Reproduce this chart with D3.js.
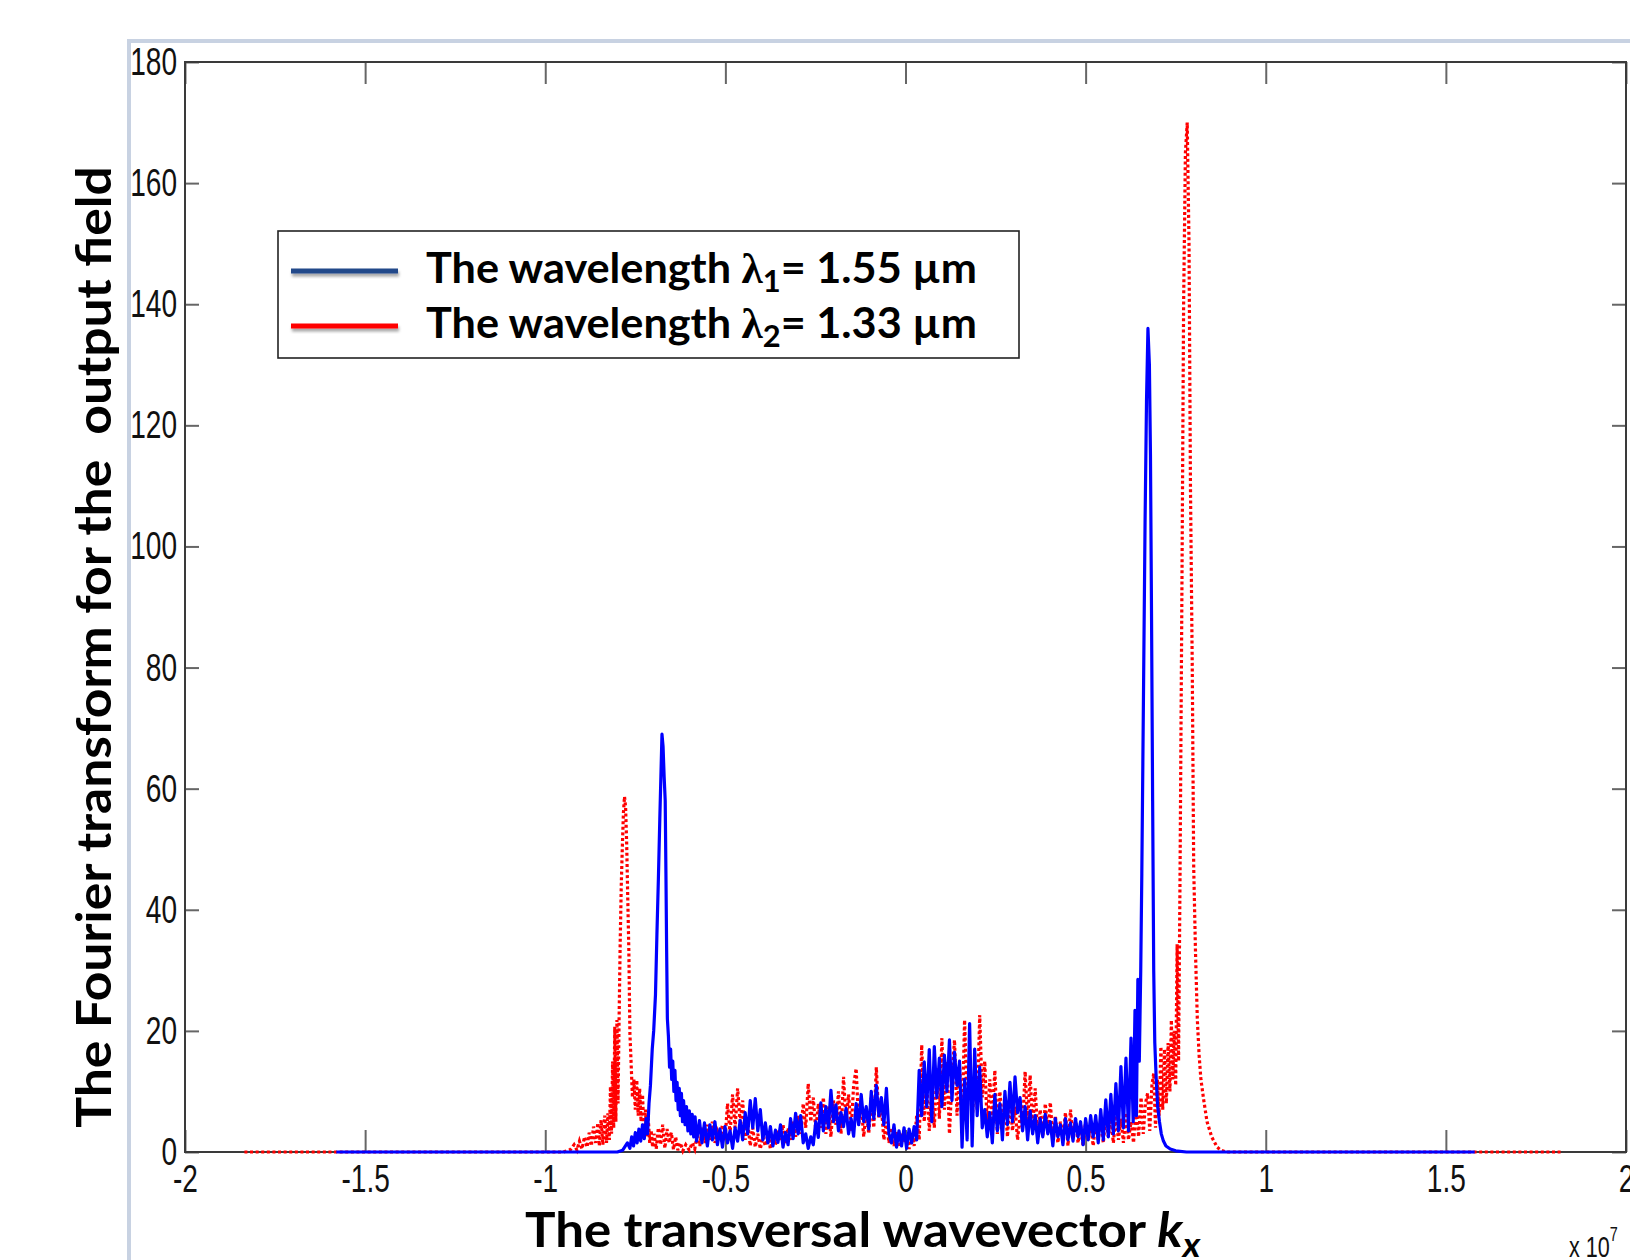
<!DOCTYPE html>
<html>
<head>
<meta charset="utf-8">
<script src="https://cdn.jsdelivr.net/npm/d3@7"></script>
<style>
  html, body { margin: 0; padding: 0; background: #fff; }
  svg { display: block; }
</style>
</head>
<body>
<svg id="chart" width="1630" height="1260"></svg>
<script>
// ---- data (kx in units of 1e7, amplitude) ----
const xTicks = [-2, -1.5, -1, -0.5, 0, 0.5, 1, 1.5, 2];
const yTicks = [0, 20, 40, 60, 80, 100, 120, 140, 160, 180];

const legendLabels = [
  { pre: 'The wavelength ', sym: 'λ', sub: '1', post: '= 1.55 µm' },
  { pre: 'The wavelength ', sym: 'λ', sub: '2', post: '= 1.33 µm' }
];

// lambda1 = 1.55 um (solid blue)
const blueSeries = [
  [-1.58, 0], [-0.80, 0], [-0.785, 0.3], [-0.772, 1.5], [-0.765, 0.6], [-0.760, 2.5], [-0.755, 1.0],
  [-0.750, 3.2], [-0.745, 1.5], [-0.740, 3.8], [-0.735, 1.8], [-0.730, 4.5], [-0.725, 2.2], [-0.720, 5.5],
  [-0.716, 3.0], [-0.712, 8.0], [-0.708, 11], [-0.703, 17], [-0.699, 20], [-0.694, 26], [-0.690, 36],
  [-0.686, 45], [-0.682, 55], [-0.679, 62], [-0.676, 69], [-0.673, 67], [-0.670, 62], [-0.667, 58],
  [-0.665, 46], [-0.663, 33], [-0.661, 22], [-0.658, 19], [-0.655, 14], [-0.652, 17], [-0.649, 12],
  [-0.646, 15], [-0.643, 10], [-0.640, 13.5], [-0.637, 8.5], [-0.634, 11.5], [-0.631, 7], [-0.628, 10.5],
  [-0.625, 6], [-0.622, 9.7], [-0.619, 5], [-0.616, 8.5], [-0.612, 4.5], [-0.608, 7.5], [-0.604, 3.5],
  [-0.600, 6.8], [-0.596, 3], [-0.592, 6.2], [-0.588, 2.5], [-0.584, 5.8],
  [-0.580, 1.8], [-0.572, 5.2], [-0.565, 1.5], [-0.558, 4.8], [-0.550, 1.0], [-0.543, 4.5], [-0.536, 2.0],
  [-0.529, 5.0], [-0.522, 1.2], [-0.515, 3.8], [-0.508, 0.8], [-0.501, 4.2], [-0.494, 1.5], [-0.487, 3.5],
  [-0.480, 0.6], [-0.473, 4.0], [-0.466, 1.8], [-0.459, 5.2], [-0.452, 2.0], [-0.445, 6.5], [-0.438, 3.0],
  [-0.431, 8.5], [-0.424, 4.0], [-0.417, 8.8], [-0.410, 3.5], [-0.403, 7.0], [-0.396, 2.0], [-0.389, 4.8],
  [-0.382, 1.5], [-0.375, 4.2], [-0.368, 1.0], [-0.361, 3.6], [-0.354, 1.6], [-0.347, 4.5], [-0.340, 0.8],
  [-0.333, 3.2], [-0.326, 1.2], [-0.319, 5.5], [-0.312, 2.2], [-0.305, 6.4], [-0.298, 3.0], [-0.291, 6.0],
  [-0.284, 1.5], [-0.277, 3.0], [-0.270, 0.6], [-0.263, 2.5], [-0.256, 1.2], [-0.249, 5.0], [-0.242, 2.4],
  [-0.235, 8.1], [-0.228, 3.5], [-0.221, 7.5], [-0.214, 4.0], [-0.207, 10.2], [-0.200, 5.0], [-0.193, 7.8],
  [-0.186, 3.5], [-0.179, 6.5], [-0.172, 4.2], [-0.165, 7.2], [-0.158, 3.0], [-0.151, 5.5], [-0.144, 2.6],
  [-0.137, 8.0], [-0.130, 4.5], [-0.123, 9.5], [-0.116, 5.0], [-0.109, 7.5], [-0.102, 3.8], [-0.095, 10.0],
  [-0.088, 5.5], [-0.081, 11.0], [-0.074, 6.0], [-0.067, 9.0], [-0.060, 4.5], [-0.053, 10.5], [-0.046, 3.0],
  [-0.039, 1.5], [-0.032, 4.5], [-0.025, 0.8], [-0.018, 3.5], [-0.011, 1.0], [-0.004, 4.0], [0.003, 0.6],
  [0.010, 3.8], [0.017, 1.5], [0.024, 4.2], [0.031, 2.0], [0.038, 13.5], [0.045, 6.0], [0.052, 14.9],
  [0.059, 7.5], [0.066, 16.9], [0.073, 5.0], [0.080, 17.4], [0.087, 9.0], [0.094, 15.5], [0.101, 7.5],
  [0.108, 16.0], [0.115, 10.0], [0.122, 18.5], [0.129, 8.5], [0.136, 16.5], [0.143, 11.0], [0.150, 15.0],
  [0.157, 0.8], [0.164, 12.0], [0.171, 2.0], [0.178, 21.2], [0.185, 1.0], [0.192, 17.0], [0.199, 6.0],
  [0.206, 14.0], [0.213, 4.0], [0.220, 7.0], [0.227, 2.5], [0.234, 6.5], [0.241, 1.5], [0.248, 9.5],
  [0.255, 3.5], [0.262, 8.0], [0.269, 2.0], [0.276, 10.0], [0.283, 4.5], [0.290, 11.5], [0.297, 5.0],
  [0.304, 12.4], [0.311, 6.5], [0.318, 9.0], [0.325, 3.5], [0.332, 7.5], [0.339, 2.0], [0.346, 6.8],
  [0.353, 3.0], [0.360, 6.0], [0.367, 1.5], [0.374, 5.5], [0.381, 2.5], [0.388, 6.2], [0.395, 3.0],
  [0.402, 5.0], [0.409, 1.0], [0.416, 5.5], [0.423, 2.5], [0.430, 4.5], [0.437, 1.2], [0.444, 5.5],
  [0.451, 2.0], [0.458, 4.8], [0.465, 1.8], [0.472, 5.5], [0.479, 2.5], [0.486, 5.0], [0.493, 1.2],
  [0.500, 5.5], [0.507, 2.0], [0.514, 6.0], [0.521, 2.5], [0.528, 6.0], [0.535, 1.5], [0.542, 7.0],
  [0.549, 2.0], [0.556, 8.6], [0.563, 2.5], [0.570, 9.5], [0.577, 3.0], [0.584, 11.3], [0.591, 3.5],
  [0.598, 14.1], [0.605, 4.0], [0.612, 15.5], [0.619, 3.5], [0.626, 18.8], [0.632, 5.0], [0.637, 23.4],
  [0.641, 6.0], [0.645, 28.5], [0.649, 15], [0.653, 30], [0.656, 46], [0.661, 78], [0.665, 104],
  [0.669, 124], [0.673, 136], [0.677, 130], [0.680, 115], [0.683, 88], [0.686, 58], [0.689, 30],
  [0.692, 18], [0.696, 12], [0.700, 7.5], [0.705, 5.0], [0.710, 3.0], [0.716, 1.8], [0.723, 1.0],
  [0.735, 0.5], [0.750, 0.2], [0.780, 0], [1.58, 0]
];

// lambda2 = 1.33 um (dotted red)
const redSeries = [
  [-1.835, 0], [-0.95, 0], [-0.930, 0.4], [-0.920, 1.2], [-0.912, 0.3], [-0.905, 1.8], [-0.898, 0.5],
  [-0.891, 2.5], [-0.884, 0.8], [-0.878, 3.2], [-0.872, 1.0], [-0.866, 4.2], [-0.860, 1.5], [-0.854, 4.8],
  [-0.850, 1.0], [-0.845, 5.3], [-0.840, 1.2], [-0.835, 6.0], [-0.830, 1.5], [-0.826, 6.4], [-0.822, 2.0],
  [-0.819, 10.8], [-0.816, 3.0], [-0.813, 15], [-0.810, 4.0], [-0.807, 20.7], [-0.804, 5.0], [-0.801, 21.8],
  [-0.798, 8.0], [-0.795, 22], [-0.792, 34.5], [-0.789, 44], [-0.786, 50.4], [-0.783, 56], [-0.780, 58.7],
  [-0.777, 57], [-0.774, 51], [-0.771, 42], [-0.768, 33.4], [-0.765, 19.6], [-0.762, 15.2], [-0.758, 9],
  [-0.754, 12], [-0.750, 7], [-0.746, 11.9], [-0.742, 6], [-0.738, 10.5], [-0.734, 5], [-0.730, 9.5],
  [-0.726, 3.5], [-0.722, 7], [-0.718, 2.5], [-0.714, 5.5], [-0.710, 1.5], [-0.706, 3.6], [-0.702, 0.8],
  [-0.698, 3.0], [-0.692, 0.5], [-0.686, 4.0], [-0.680, 1.2], [-0.674, 4.5], [-0.668, 0.6], [-0.662, 3.8],
  [-0.656, 1.5], [-0.650, 3.2], [-0.644, 0.4], [-0.638, 2.5], [-0.632, 0.3], [-0.625, 1.5], [-0.618, 0.2],
  [-0.610, 1.2], [-0.600, 0.3], [-0.592, 1.5], [-0.585, 0.5], [-0.578, 3.0], [-0.571, 1.0], [-0.564, 4.0],
  [-0.557, 1.5], [-0.550, 4.5], [-0.543, 2.0], [-0.536, 5.0], [-0.529, 1.5], [-0.522, 3.5], [-0.515, 2.5],
  [-0.508, 4.5], [-0.501, 2.0], [-0.494, 8.0], [-0.487, 3.0], [-0.480, 9.5], [-0.473, 4.0], [-0.466, 10.5],
  [-0.459, 5.0], [-0.452, 8.5], [-0.445, 2.0], [-0.438, 5.0], [-0.431, 1.0], [-0.424, 4.0], [-0.417, 0.8],
  [-0.410, 3.0], [-0.403, 0.5], [-0.396, 2.5], [-0.389, 1.0], [-0.382, 3.0], [-0.375, 0.5], [-0.368, 2.8],
  [-0.361, 1.2], [-0.354, 3.5], [-0.347, 2.0], [-0.340, 4.5], [-0.333, 1.5], [-0.326, 4.0], [-0.319, 2.0],
  [-0.312, 5.0], [-0.305, 2.5], [-0.298, 6.0], [-0.291, 3.0], [-0.284, 8.0], [-0.277, 4.0], [-0.270, 11.3],
  [-0.263, 5.0], [-0.256, 9.0], [-0.249, 3.5], [-0.242, 8.0], [-0.235, 4.0], [-0.228, 9.0], [-0.221, 3.0],
  [-0.214, 7.5], [-0.207, 2.5], [-0.200, 8.5], [-0.193, 4.5], [-0.186, 10.0], [-0.179, 3.0], [-0.172, 12.4],
  [-0.165, 5.0], [-0.158, 9.5], [-0.151, 3.5], [-0.144, 11.0], [-0.137, 13.8], [-0.130, 4.5], [-0.123, 8.0],
  [-0.116, 2.5], [-0.109, 7.0], [-0.102, 3.0], [-0.095, 9.0], [-0.088, 4.0], [-0.081, 14.0], [-0.074, 5.5],
  [-0.067, 7.5], [-0.060, 2.0], [-0.053, 5.0], [-0.046, 1.5], [-0.039, 4.0], [-0.032, 1.0], [-0.025, 3.5],
  [-0.018, 0.8], [-0.011, 3.0], [-0.004, 1.5], [0.003, 2.5], [0.010, 0.5], [0.017, 3.0], [0.024, 1.0],
  [0.031, 6.0], [0.038, 2.0], [0.045, 17.7], [0.052, 5.0], [0.059, 12.0], [0.066, 3.5], [0.073, 10.0],
  [0.080, 4.0], [0.087, 14.0], [0.094, 5.5], [0.101, 18.8], [0.108, 7.0], [0.115, 15.0], [0.122, 3.0],
  [0.129, 12.0], [0.136, 18.5], [0.143, 6.0], [0.150, 14.0], [0.157, 4.0], [0.164, 21.8], [0.171, 8.0],
  [0.178, 16.0], [0.185, 5.0], [0.192, 13.0], [0.199, 7.0], [0.206, 22.6], [0.213, 9.0], [0.220, 15.0],
  [0.227, 4.0], [0.234, 12.0], [0.241, 5.5], [0.248, 13.5], [0.255, 3.0], [0.262, 10.0], [0.269, 4.5],
  [0.276, 8.5], [0.283, 2.5], [0.290, 9.0], [0.297, 3.5], [0.304, 7.5], [0.311, 2.0], [0.318, 6.0],
  [0.325, 4.0], [0.332, 13.3], [0.339, 5.0], [0.346, 12.7], [0.353, 4.0], [0.360, 10.5], [0.367, 3.0],
  [0.374, 7.0], [0.381, 2.5], [0.388, 8.0], [0.395, 3.5], [0.402, 8.2], [0.409, 2.0], [0.416, 6.0],
  [0.423, 1.5], [0.430, 5.0], [0.437, 2.0], [0.444, 6.5], [0.451, 1.0], [0.458, 7.0], [0.465, 2.5],
  [0.472, 5.5], [0.479, 1.5], [0.486, 4.5], [0.493, 1.0], [0.500, 5.0], [0.507, 2.0], [0.514, 4.5],
  [0.521, 1.0], [0.528, 5.0], [0.535, 2.0], [0.542, 5.5], [0.549, 1.5], [0.556, 6.0], [0.563, 2.5],
  [0.570, 5.5], [0.577, 1.5], [0.584, 6.0], [0.591, 2.0], [0.598, 5.5], [0.605, 1.5], [0.612, 6.5],
  [0.619, 2.0], [0.626, 5.0], [0.633, 1.5], [0.640, 7.5], [0.647, 2.5], [0.654, 9.0], [0.660, 3.0],
  [0.666, 8.0], [0.672, 9.7], [0.678, 3.5], [0.684, 11.0], [0.689, 13.0], [0.694, 4.0], [0.699, 12.0],
  [0.704, 6.0], [0.709, 17.4], [0.714, 7.0], [0.719, 17.0], [0.724, 8.0], [0.729, 18.0], [0.734, 10.0],
  [0.738, 21.8], [0.742, 12.0], [0.746, 20.0], [0.750, 11.0], [0.754, 34.3], [0.758, 15.0], [0.762, 45],
  [0.767, 90], [0.772, 140], [0.777, 165], [0.782, 170], [0.787, 150], [0.791, 110], [0.796, 80],
  [0.800, 47], [0.805, 33], [0.810, 22], [0.815, 16], [0.820, 12], [0.828, 8.5], [0.837, 5.0],
  [0.850, 2.5], [0.865, 0.8], [0.875, 0.3], [0.890, 0], [1.825, 0]
];

// ---- layout ----
const plot = { left: 185, right: 1626, top: 62, bottom: 1152 };
const tickFont = '"Liberation Sans", Arial, sans-serif';
const tickSqueeze = 0.72;   // narrow, tall tick digits as in the figure
const labelFont = 'Lato, "Open Sans", "Noto Sans", sans-serif';

const svg = d3.select('#chart');

const defs = svg.append('defs');
defs.append('filter').attr('id', 'shadow')
  .attr('x', '-10%').attr('y', '-100%').attr('width', '120%').attr('height', '300%')
  .append('feDropShadow')
  .attr('dx', 1).attr('dy', 3).attr('stdDeviation', 1.5)
  .attr('flood-color', '#000').attr('flood-opacity', 0.35);

// light frame around the embedded figure
svg.append('rect')
  .attr('x', 129).attr('y', 41)
  .attr('width', 1620).attr('height', 1300)
  .attr('fill', '#fff')
  .attr('stroke', '#c8d2e2')
  .attr('stroke-width', 4);

const x = d3.scaleLinear().domain([-2, 2]).range([plot.left, plot.right]);
const y = d3.scaleLinear().domain([0, 180]).range([plot.bottom, plot.top]);

const styleAxis = g => {
  g.select('.domain').remove();
  g.selectAll('.tick line').attr('stroke', '#666').attr('stroke-width', 2);
  g.selectAll('.tick text')
    .attr('fill', '#111')
    .style('font-family', tickFont)
    .style('font-size', '39px')
    .attr('transform', `scale(${tickSqueeze},1)`);
};

// Step 1: axes (ticks pointing inward on all four sides)
svg.append('g')
  .attr('transform', `translate(0,${plot.bottom})`)
  .call(d3.axisBottom(x).tickValues(xTicks).tickFormat(d => String(d))
    .tickSizeInner(-22).tickSizeOuter(0).tickPadding(12))
  .call(styleAxis);

svg.append('g')
  .attr('transform', `translate(0,${plot.top})`)
  .call(d3.axisTop(x).tickValues(xTicks).tickFormat('')
    .tickSizeInner(-22).tickSizeOuter(0))
  .call(styleAxis);

svg.append('g')
  .attr('transform', `translate(${plot.left},0)`)
  .call(d3.axisLeft(y).tickValues(yTicks).tickFormat(d => String(d))
    .tickSizeInner(-14).tickSizeOuter(0).tickPadding(8))
  .call(styleAxis)
  .call(g => g.selectAll('.tick text').attr('x', -8 / tickSqueeze));

svg.append('g')
  .attr('transform', `translate(${plot.right},0)`)
  .call(d3.axisRight(y).tickValues(yTicks).tickFormat('')
    .tickSizeInner(-14).tickSizeOuter(0))
  .call(styleAxis);

svg.append('rect')
  .attr('x', plot.left).attr('y', plot.top)
  .attr('width', plot.right - plot.left)
  .attr('height', plot.bottom - plot.top)
  .attr('fill', 'none')
  .attr('stroke', '#3a3a3a')
  .attr('stroke-width', 2);

// Step 2: the two spectra (red dotted below, blue solid on top)
const line = d3.line()
  .x(d => x(d[0]))
  .y(d => y(d[1]));

svg.append('path')
  .datum(redSeries)
  .attr('d', line)
  .attr('fill', 'none')
  .attr('stroke', '#ff0000')
  .attr('stroke-width', 3.2)
  .attr('stroke-dasharray', '3 2.6');

svg.append('path')
  .datum(blueSeries)
  .attr('d', line)
  .attr('fill', 'none')
  .attr('stroke', '#0000ff')
  .attr('stroke-width', 3.2)
  .attr('stroke-linejoin', 'round');

// Step 3: texts. Squeeze a text horizontally so it spans the target width
const fitWidth = (sel, target) => {
  const w = sel.node().getBBox().width;
  return target / w;
};

// x label
const xLabG = svg.append('g');
const xLab = xLabG.append('text')
  .attr('x', 0).attr('y', 0)
  .style('font-family', labelFont)
  .style('font-weight', 'bold')
  .style('font-size', '48px')
  .attr('fill', '#000');
xLab.append('tspan').text('The transversal wavevector ');
xLab.append('tspan').style('font-style', 'italic').text('k');
xLab.append('tspan').style('font-style', 'italic').style('font-size', '34px').attr('dy', 10).text('x');
xLabG.attr('transform', `translate(525,1247) scale(${fitWidth(xLab, 676)},1)`);

// y label
const yLabG = svg.append('g');
const yLab = yLabG.append('text')
  .attr('x', 0).attr('y', 0)
  .attr('text-anchor', 'middle')
  .attr('xml:space', 'preserve')
  .style('font-family', labelFont)
  .style('font-weight', 'bold')
  .style('font-size', '47px')
  .attr('fill', '#000')
  .text('The Fourier transform for the  output field');
yLabG.attr('transform', `translate(111,647) rotate(-90) scale(${fitWidth(yLab, 962)},1)`);

// x 10^7 multiplier
const mult = svg.append('g').attr('transform', `translate(1569,1257) scale(${tickSqueeze},1)`)
  .append('text')
  .attr('x', 0).attr('y', 0)
  .style('font-family', tickFont)
  .style('font-size', '30px')
  .attr('fill', '#111');
mult.append('tspan').text('x 10');
mult.append('tspan').attr('dy', -16).style('font-size', '20px').text('7');

// Step 4: legend
const legend = svg.append('g');
legend.append('rect')
  .attr('x', 278).attr('y', 231)
  .attr('width', 741).attr('height', 127)
  .attr('fill', '#fff')
  .attr('stroke', '#222')
  .attr('stroke-width', 1.6);

const legendColors = ['#24498a', '#ff0000'];
const legendRows = [271, 326];

legendLabels.forEach((lab, i) => {
  legend.append('rect')
    .attr('x', 291).attr('y', legendRows[i] - 2.5)
    .attr('width', 107).attr('height', 5)
    .attr('fill', legendColors[i])
    .attr('filter', 'url(#shadow)');

  const g = legend.append('g');
  const t = g.append('text')
    .attr('x', 0).attr('y', 0)
    .style('font-family', labelFont)
    .style('font-weight', 'bold')
    .style('font-size', '42px')
    .attr('fill', '#000');
  t.append('tspan').text(lab.pre);
  t.append('tspan').style('font-family', '"Liberation Serif", "DejaVu Serif", serif').text(lab.sym);
  t.append('tspan').attr('dy', 9).style('font-size', '30px').text(lab.sub);
  t.append('tspan').attr('dy', -9).text(lab.post);
  g.attr('transform', `translate(426,${legendRows[i] + 12}) scale(${fitWidth(t, 551)},1)`);
});
</script>
</body>
</html>
